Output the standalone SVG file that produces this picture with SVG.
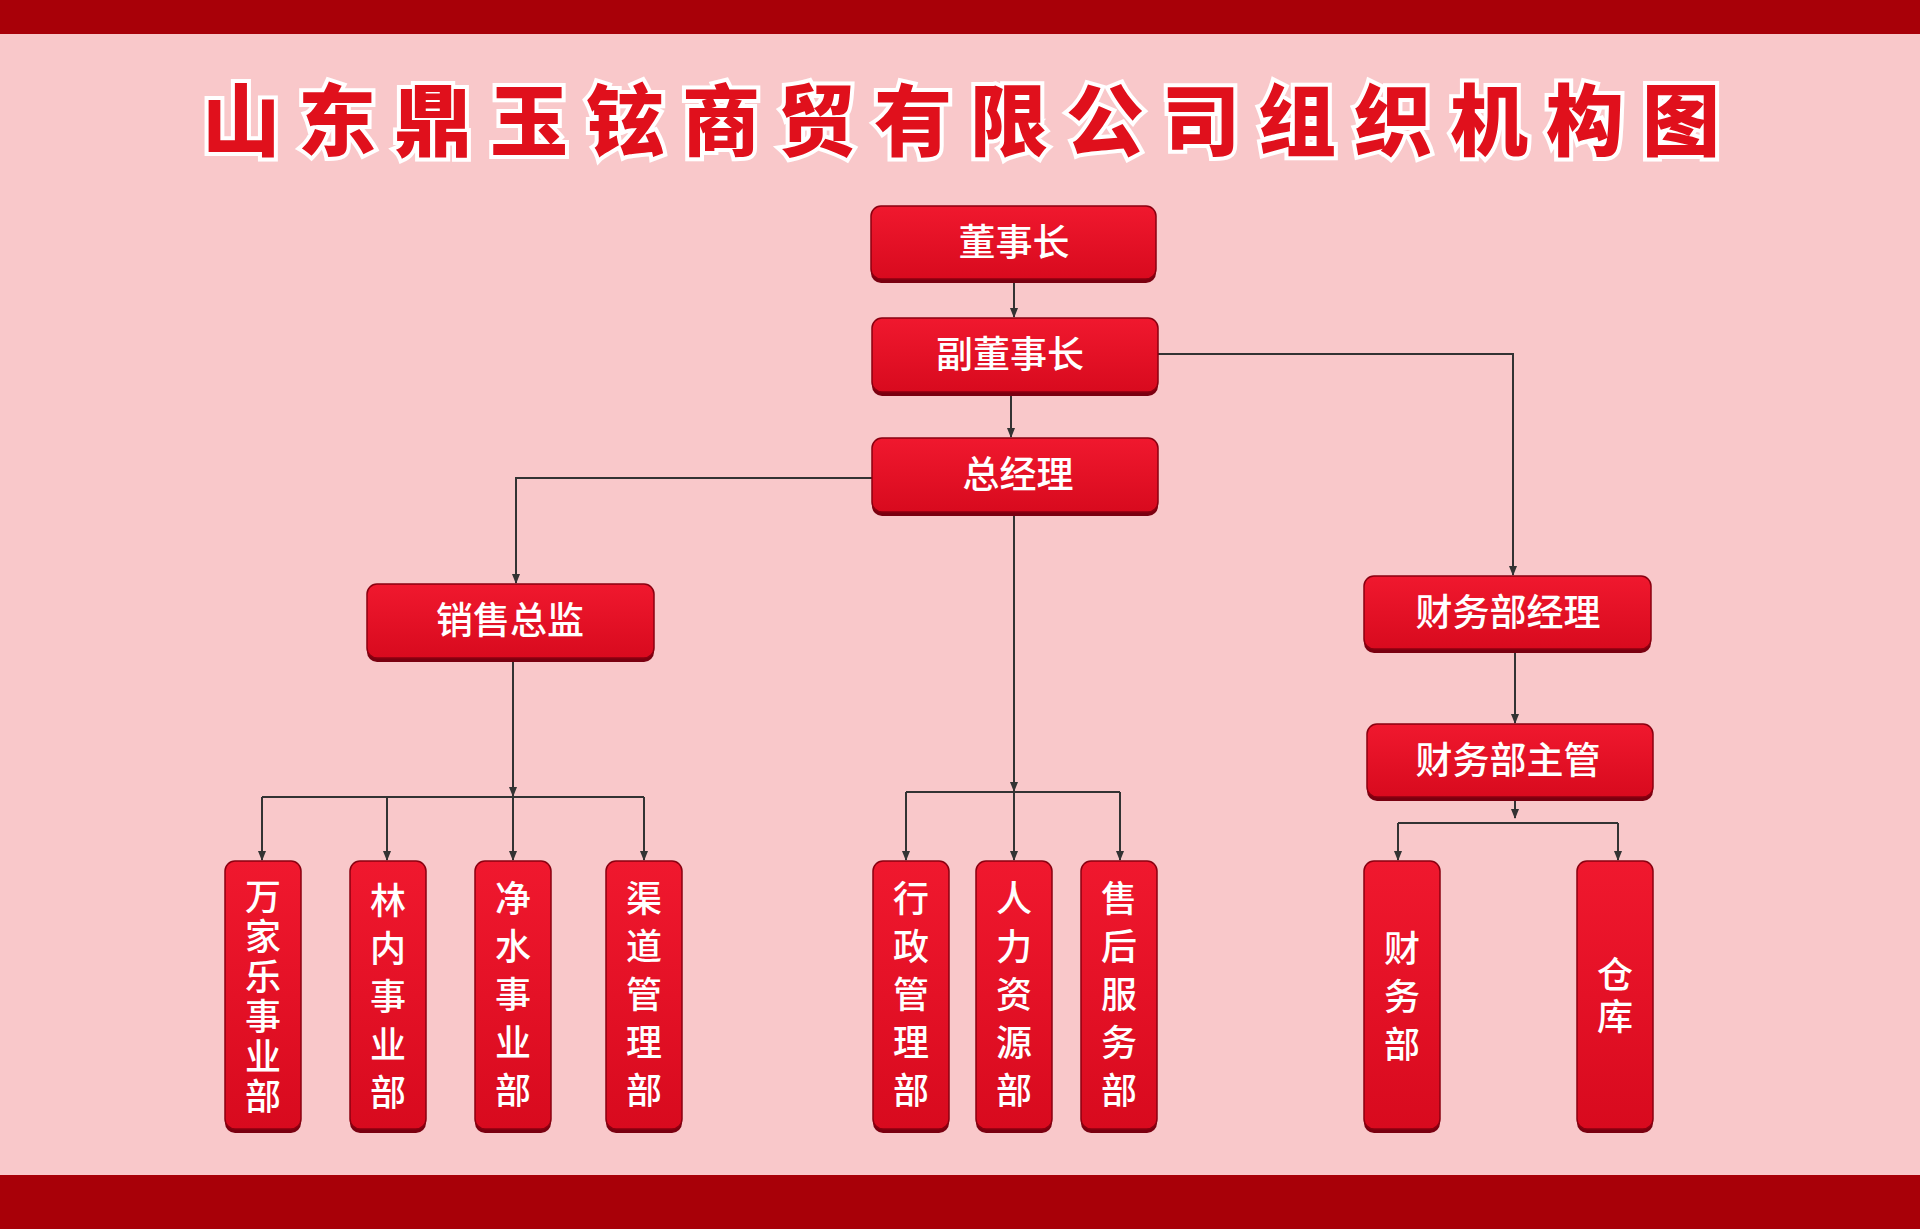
<svg xmlns="http://www.w3.org/2000/svg" width="1920" height="1229" viewBox="0 0 1920 1229">
<defs>
<linearGradient id="g" x1="0" y1="0" x2="0" y2="1"><stop offset="0" stop-color="#f0182e"/><stop offset="1" stop-color="#d80a1e"/></linearGradient>
<marker id="a" markerWidth="10" markerHeight="10" refX="9" refY="5" orient="auto" markerUnits="userSpaceOnUse"><path d="M0,1 L10,5 L0,9 Z" fill="#333"/></marker>
</defs>
<style>
.b{fill:url(#g);stroke:#8a0010;stroke-width:1.5}
.s{fill:#7a0010}
.t{fill:#fff;font-family:"Noto Sans CJK SC",sans-serif;font-size:37px;font-weight:500;text-anchor:middle}
.v{fill:#fff;font-family:"Noto Sans CJK SC",sans-serif;font-size:36px;font-weight:500;text-anchor:middle}
.c{fill:none;stroke:#333;stroke-width:2;marker-end:url(#a)}
.l{fill:none;stroke:#333;stroke-width:2}
</style>
<rect width="1920" height="1229" fill="#f9c8ca"/>
<rect width="1920" height="34" fill="#a80008"/>
<rect y="1175" width="1920" height="54" fill="#a80008"/>
<text x="970" y="150" font-family="Noto Sans CJK SC,sans-serif" font-size="78" font-weight="900" letter-spacing="18" text-anchor="middle" fill="#e0101c" stroke="#fff" stroke-width="8" paint-order="stroke">山东鼎玉铉商贸有限公司组织机构图</text>
<g id="connectors">
<path class="c" d="M1014,279 V317"/>
<path class="c" d="M1011,392 V437"/>
<path class="c" d="M1158,354 H1513 V575"/>
<path class="c" d="M872,478 H516 V583"/>
<path class="c" d="M1014,512 V791"/>
<path class="l" d="M906,792 H1120"/>
<path class="c" d="M906,792 V860"/><path class="c" d="M1014,792 V860"/><path class="c" d="M1120,792 V860"/>
<path class="c" d="M513,658 V796"/>
<path class="l" d="M262,797 H644"/>
<path class="c" d="M262,797 V860"/><path class="c" d="M387,797 V860"/><path class="c" d="M513,797 V860"/><path class="c" d="M644,797 V860"/>
<path class="c" d="M1515,649 V723"/>
<path class="c" d="M1515,797 V818"/>
<path class="l" d="M1398,823 H1618"/>
<path class="c" d="M1398,823 V860"/><path class="c" d="M1618,823 V860"/>
</g>
<g id="n1"><rect class="s" x="871" y="210" width="285" height="73" rx="10"/><rect class="b" x="871" y="206" width="285" height="73" rx="10"/><text class="t" x="1014" y="256">董事长</text></g>
<g id="n2"><rect class="s" x="872" y="322" width="286" height="74" rx="10"/><rect class="b" x="872" y="318" width="286" height="74" rx="10"/><text class="t" x="1010" y="368">副董事长</text></g>
<g id="n3"><rect class="s" x="872" y="442" width="286" height="74" rx="10"/><rect class="b" x="872" y="438" width="286" height="74" rx="10"/><text class="t" x="1018" y="488">总经理</text></g>
<g id="n4"><rect class="s" x="367" y="588" width="287" height="74" rx="10"/><rect class="b" x="367" y="584" width="287" height="74" rx="10"/><text class="t" x="510" y="634">销售总监</text></g>
<g id="n5"><rect class="s" x="1364" y="580" width="287" height="73" rx="10"/><rect class="b" x="1364" y="576" width="287" height="73" rx="10"/><text class="t" x="1508" y="626">财务部经理</text></g>
<g id="n6"><rect class="s" x="1367" y="728" width="286" height="73" rx="10"/><rect class="b" x="1367" y="724" width="286" height="73" rx="10"/><text class="t" x="1508" y="774">财务部主管</text></g>
<g id="v1"><rect class="s" x="225" y="865" width="76" height="268" rx="10"/><rect class="b" x="225" y="861" width="76" height="268" rx="10"/><text class="v" x="263" y="910" font-size="33"><tspan x="263">万</tspan><tspan x="263" dy="40">家</tspan><tspan x="263" dy="40">乐</tspan><tspan x="263" dy="40">事</tspan><tspan x="263" dy="40">业</tspan><tspan x="263" dy="40">部</tspan></text></g>
<g id="v2"><rect class="s" x="350" y="865" width="76" height="268" rx="10"/><rect class="b" x="350" y="861" width="76" height="268" rx="10"/><text class="v" x="388" y="914"><tspan x="388">林</tspan><tspan x="388" dy="48">内</tspan><tspan x="388" dy="48">事</tspan><tspan x="388" dy="48">业</tspan><tspan x="388" dy="48">部</tspan></text></g>
<g id="v3"><rect class="s" x="475" y="865" width="76" height="268" rx="10"/><rect class="b" x="475" y="861" width="76" height="268" rx="10"/><text class="v" x="513" y="912"><tspan x="513">净</tspan><tspan x="513" dy="48">水</tspan><tspan x="513" dy="48">事</tspan><tspan x="513" dy="48">业</tspan><tspan x="513" dy="48">部</tspan></text></g>
<g id="v4"><rect class="s" x="606" y="865" width="76" height="268" rx="10"/><rect class="b" x="606" y="861" width="76" height="268" rx="10"/><text class="v" x="644" y="912"><tspan x="644">渠</tspan><tspan x="644" dy="48">道</tspan><tspan x="644" dy="48">管</tspan><tspan x="644" dy="48">理</tspan><tspan x="644" dy="48">部</tspan></text></g>
<g id="v5"><rect class="s" x="873" y="865" width="76" height="268" rx="10"/><rect class="b" x="873" y="861" width="76" height="268" rx="10"/><text class="v" x="911" y="912"><tspan x="911">行</tspan><tspan x="911" dy="48">政</tspan><tspan x="911" dy="48">管</tspan><tspan x="911" dy="48">理</tspan><tspan x="911" dy="48">部</tspan></text></g>
<g id="v6"><rect class="s" x="976" y="865" width="76" height="268" rx="10"/><rect class="b" x="976" y="861" width="76" height="268" rx="10"/><text class="v" x="1014" y="912"><tspan x="1014">人</tspan><tspan x="1014" dy="48">力</tspan><tspan x="1014" dy="48">资</tspan><tspan x="1014" dy="48">源</tspan><tspan x="1014" dy="48">部</tspan></text></g>
<g id="v7"><rect class="s" x="1081" y="865" width="76" height="268" rx="10"/><rect class="b" x="1081" y="861" width="76" height="268" rx="10"/><text class="v" x="1119" y="912"><tspan x="1119">售</tspan><tspan x="1119" dy="48">后</tspan><tspan x="1119" dy="48">服</tspan><tspan x="1119" dy="48">务</tspan><tspan x="1119" dy="48">部</tspan></text></g>
<g id="v8"><rect class="s" x="1364" y="865" width="76" height="268" rx="10"/><rect class="b" x="1364" y="861" width="76" height="268" rx="10"/><text class="v" x="1402" y="962"><tspan x="1402">财</tspan><tspan x="1402" dy="48">务</tspan><tspan x="1402" dy="48">部</tspan></text></g>
<g id="v9"><rect class="s" x="1577" y="865" width="76" height="268" rx="10"/><rect class="b" x="1577" y="861" width="76" height="268" rx="10"/><text class="v" x="1615" y="988"><tspan x="1615">仓</tspan><tspan x="1615" dy="42">库</tspan></text></g>
</svg>
